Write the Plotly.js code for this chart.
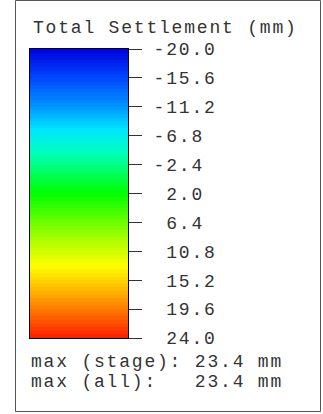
<!DOCTYPE html>
<html>
<head>
<meta charset="utf-8">
<script src="https://cdn.plot.ly/plotly-3.0.1.min.js"></script>
<style>html,body{margin:0;padding:0;background:#fff;}#chart{width:323px;height:414px;}text{letter-spacing:1.8px;}</style>
</head>
<body>
<div id="chart"></div>
<script>
// Band edges of the colour legend (mm)
var bandEdges = [-20.00, -19.45, -18.90, -18.35, -17.80, -17.25, -16.70, -16.15,
  -15.60, -15.05, -14.50, -13.95, -13.40, -12.85, -12.30, -11.75,
  -11.20, -10.65, -10.10, -9.55, -9.00, -8.45, -7.90, -7.35,
  -6.80, -6.25, -5.70, -5.15, -4.60, -4.05, -3.50, -2.95,
  -2.40, -1.85, -1.30, -0.75, -0.20, 0.35, 0.90, 1.45,
  2.00, 2.55, 3.10, 3.65, 4.20, 4.75, 5.30, 5.85,
  6.40, 6.95, 7.50, 8.05, 8.60, 9.15, 9.70, 10.25,
  10.80, 11.35, 11.90, 12.45, 13.00, 13.55, 14.10, 14.65,
  15.20, 15.75, 16.30, 16.85, 17.40, 17.95, 18.50, 19.05,
  19.60, 20.15, 20.70, 21.25, 21.80, 22.35, 22.90, 23.45, 24.00];
var tickValues = [-20.0, -15.6, -11.2, -6.8, -2.4, 2.0, 6.4, 10.8, 15.2, 19.6, 24.0];
var tickLabels = ["-20.0", "-15.6", "-11.2", "-6.8", "-2.4", "\u00a02.0", "\u00a06.4", "\u00a010.8", "\u00a015.2", "\u00a019.6", "\u00a024.0"];
var titleText = "Total Settlement (mm)";
var footerLines = ["max (stage): 23.4 mm", "max (all):\u00a0\u00a0\u00a023.4 mm"];

var zMid = [];
for (var i = 0; i < bandEdges.length - 1; i++) {
  zMid.push([(bandEdges[i] + bandEdges[i + 1]) / 2]);
}

var colorscale = [
  [0, 'rgb(0,0,220)'],
  [0.1, 'rgb(0,70,255)'],
  [0.2, 'rgb(0,150,255)'],
  [0.28, 'rgb(0,230,255)'],
  [0.36, 'rgb(0,255,190)'],
  [0.5, 'rgb(0,255,0)'],
  [0.62, 'rgb(130,255,0)'],
  [0.75, 'rgb(255,255,0)'],
  [0.85, 'rgb(255,170,0)'],
  [1, 'rgb(255,30,0)']
];

var font = 'Liberation Mono, Courier New, monospace';
var fsize = 18;
var fcolor = '#333';
var trace = {
  type: 'heatmap',
  x: [-0.5, 0.5],
  y: bandEdges,
  z: zMid,
  zmin: -20, zmax: 24,
  colorscale: colorscale,
  showscale: false,
  hoverinfo: 'skip'
};

var L = 30, T = 49, W = 98, H = 289;
function px(x) { return (x - L) / W; }
function py(y) { return (T + H - y) / H; }

var layout = {
  width: 323, height: 414,
  margin: {l: L, r: 323 - L - W, t: T, b: 414 - T - H, pad: 0},
  paper_bgcolor: '#fff', plot_bgcolor: '#fff',
  showlegend: false,
  xaxis: {range: [-0.5, 0.5], showticklabels: false, ticks: '', showgrid: false, zeroline: false,
    showline: true, mirror: true, linecolor: '#000', linewidth: 1, fixedrange: true},
  yaxis: {range: [24, -20], side: 'right', ticks: 'outside', ticklen: 13, tickwidth: 1, tickcolor: '#333',
    tickmode: 'array', tickvals: tickValues, ticktext: tickLabels, ticklabelstandoff: 8,
    tickfont: {family: font, size: fsize, color: fcolor},
    showgrid: false, zeroline: false, showline: true, mirror: true, linecolor: '#000', linewidth: 1,
    fixedrange: true},
  shapes: [{type: 'rect', xref: 'paper', yref: 'paper',
    x0: px(15.5), x1: px(320.5), y0: py(411.5), y1: py(0.5),
    line: {color: '#555', width: 1}, layer: 'below'}],
  annotations: [
    {text: titleText, xref: 'paper', yref: 'paper', x: px(31), y: py(28), xanchor: 'left', yanchor: 'middle',
      showarrow: false, font: {family: font, size: fsize, color: fcolor}},
    {text: footerLines[0], xref: 'paper', yref: 'paper', x: px(29), y: py(362), xanchor: 'left', yanchor: 'middle',
      showarrow: false, font: {family: font, size: fsize, color: fcolor}},
    {text: footerLines[1], xref: 'paper', yref: 'paper', x: px(29), y: py(382), xanchor: 'left', yanchor: 'middle',
      showarrow: false, font: {family: font, size: fsize, color: fcolor}}
  ]
};

Plotly.newPlot('chart', [trace], layout, {displayModeBar: false, staticPlot: true});
</script>
</body>
</html>
